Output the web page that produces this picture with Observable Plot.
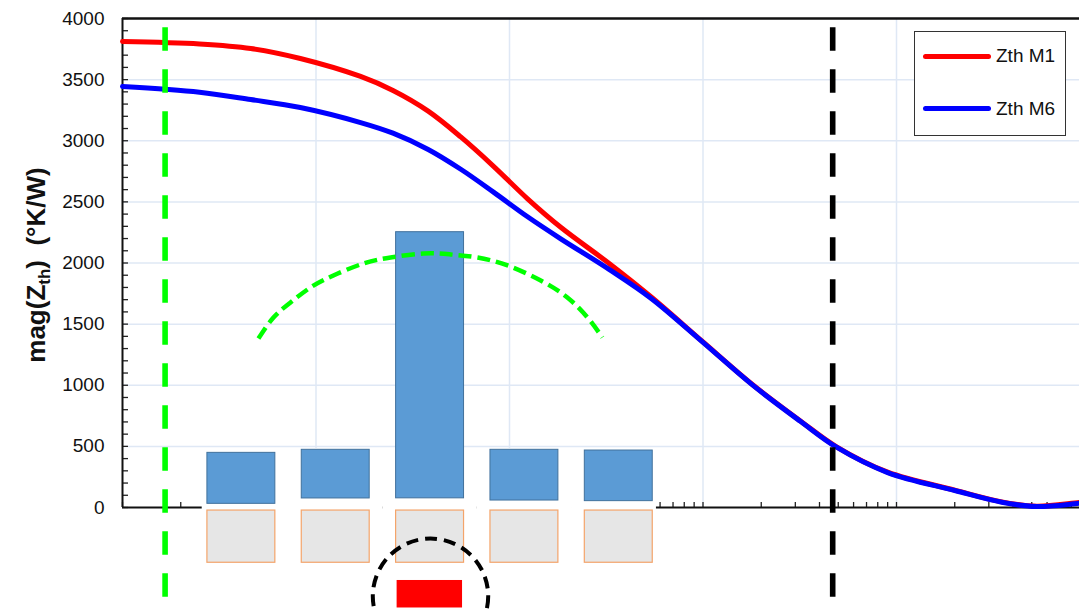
<!DOCTYPE html>
<html>
<head>
<meta charset="utf-8">
<script src="https://cdn.jsdelivr.net/npm/d3@7"></script>
<script src="https://cdn.jsdelivr.net/npm/@observablehq/plot@0.6"></script>
<style>
html, body { margin: 0; padding: 0; background: #fff; overflow: hidden; }
#wrap { position: relative; width: 1079px; height: 611px; overflow: hidden; font-family: "Liberation Sans", Arial, sans-serif; }
#wrap svg { position: absolute; left: 0; top: 0; }
#ytitle { position: absolute; left: 36px; top: 265px; transform: translate(-50%, -50%) rotate(-90deg); font-weight: bold; font-size: 26px; white-space: nowrap; color: #111; line-height: 30px; }
#ytitle sub { font-size: 17px; vertical-align: -5px; line-height: 0; }
#legend { position: absolute; left: 914px; top: 31px; width: 150px; height: 103px; border: 1.5px solid #333; background: #fff; z-index: 5; }
.item { position: absolute; left: 8px; height: 20px; display: flex; align-items: center; }
.sw { width: 68px; height: 5px; border-radius: 3px; margin-right: 5px; }
.lab { font-size: 19px; color: #111; }
</style>
</head>
<body>
<div id="wrap"></div>
<script>
// ---- data ----
const seriesNames = ["Zth M1", "Zth M6"];
const seriesColors = ["#ff0000", "#0000ff"];
const freq  = [1, 2.5, 4.6, 8.3, 17, 25, 38, 56, 83, 124, 184, 330, 540, 1000, 1800, 3200, 4900, 9000, 20000, 35000, 53000, 88000, 100000];
const zthM1 = [3812, 3792, 3755, 3673, 3526, 3411, 3242, 3031, 2789, 2525, 2292, 1992, 1722, 1354, 1006, 706, 496, 289, 142, 46, 11, 42, 48];
const zthM6 = [3444, 3397, 3337, 3272, 3149, 3062, 2929, 2767, 2578, 2378, 2198, 1944, 1710, 1351, 1003, 703, 493, 286, 139, 43, 8, 34, 40];

const yLabels = [0, 500, 1000, 1500, 2000, 2500, 3000, 3500, 4000];
const yGrid = [500, 1000, 1500, 2000, 2500, 3000, 3500];
const xGrid = [10, 100, 1000, 10000];

// dashed marker lines (frequency) and their vertical extent (Zth units)
const markerFreqs = [1.66, 4680];
const markerSpan = [3924, -736];

// green dashed arc (heat spreading) read as points
const arcFreq = [5.04, 6.03, 7.38, 9.37, 12.3, 17.6, 24.3, 36, 49.6, 68.4, 97.7, 145, 199, 253, 302];
const arcZth  = [1382, 1554, 1677, 1800, 1898, 1996, 2045, 2078, 2070, 2045, 1980, 1857, 1718, 1554, 1391];

// dashed ring round the heat source
const ringFreq = [39.06];
const ringZth = [-726];

// schematic: five dies on substrate tiles, heat source under the middle one
const modules = ["S1", "S2", "S3", "S4", "S5"];
const dieTop  = [447, 472, 2252, 472, 466];
const dieBase = [30, 74, 75, 57, 52];
const tileTop  = [-25, -25, -25, -25, -25];
const tileBase = [-452, -452, -452, -452, -452];
const sourceModule = ["S3"];
const sourceTop = [-597];
const sourceBase = [-822];
const backdropTop = 483;
const backdropBase = -1000;

// ---- scales ----
const W = 1079, H = 611;
const font = "Liberation Sans, Arial, sans-serif";
const gridColor = "#dfe8f5";
const X = {type: "log", domain: [1, 1e5], range: [122, 1089.5], axis: null};
const Y = {domain: [0, 4000], range: [507, 18], axis: null};
const xTicks = d3.scaleLog().domain([1, 1e5]).ticks();
const yTicks = d3.ticks(0, 4000, 40);

const main = Plot.plot({
  width: W, height: H, margin: 0,
  x: X, y: Y,
  style: {fontFamily: font, background: "white", overflow: "hidden"},
  marks: [
    Plot.ruleX(xGrid, {x: d => d, y1: 0, y2: 4000, stroke: gridColor, strokeWidth: 1.5}),
    Plot.ruleY(yGrid, {y: d => d, x1: 1, x2: 1e5, stroke: gridColor, strokeWidth: 1.5}),
    Plot.ruleX(xTicks, {x: d => d, y1: 0, y2: 0, insetTop: -5, stroke: "#222", strokeWidth: 1.3}),
    Plot.ruleY(yTicks, {y: d => d, x1: 1, x2: 1, insetRight: -6, stroke: "#222", strokeWidth: 1.3}),
    Plot.ruleX([1], {x: d => d, y1: 0, y2: 4000, stroke: "#111", strokeWidth: 2}),
    Plot.ruleY([0], {y: d => d, x1: 1, x2: 1e5, stroke: "#111", strokeWidth: 2}),
    Plot.ruleY([4000], {y: d => d, x1: 1, x2: 1e5, stroke: "#111", strokeWidth: 2.5}),
    Plot.text(yLabels, {x: 1, y: d => d, text: d => String(d), dx: -18, textAnchor: "end", fontSize: 19, fill: "#111"}),
    Plot.line(freq, {x: freq, y: zthM1, stroke: seriesColors[0], strokeWidth: 5, curve: "catmull-rom"}),
    Plot.line(freq, {x: freq, y: zthM6, stroke: seriesColors[1], strokeWidth: 5, curve: "catmull-rom"}),
    Plot.ruleX([markerFreqs[0]], {x: d => d, y1: markerSpan[0], y2: markerSpan[1], stroke: "#00ff00", strokeWidth: 5.6, strokeDasharray: "23.5,18.5"}),
    Plot.ruleX([markerFreqs[1]], {x: d => d, y1: markerSpan[0], y2: markerSpan[1], stroke: "#000000", strokeWidth: 5.6, strokeDasharray: "23.5,18.5"})
  ]
});

const overlay = Plot.plot({
  width: W, height: H, margin: 0,
  x: {type: "band", domain: modules, range: [193.7, 665.45], paddingInner: 0.28, paddingOuter: 0.14, round: false, axis: null},
  y: Y,
  style: {fontFamily: font, background: "transparent", overflow: "hidden"},
  marks: [
    Plot.barY(modules.slice(0, 1), {x: d => d, y1: backdropBase, y2: backdropTop, fill: "white", insetLeft: -5.2, insetRight: -13.3}),
    Plot.barY(modules.slice(1, 4), {x: d => d, y1: backdropBase, y2: backdropTop, fill: "white", insetLeft: -13.3, insetRight: -13.3}),
    Plot.barY(modules.slice(4), {x: d => d, y1: backdropBase, y2: backdropTop, fill: "white", insetLeft: -13.3, insetRight: -3.7}),
    Plot.barY(modules, {x: modules, y1: dieBase, y2: dieTop, fill: "#5b9bd5", stroke: "#41719c", strokeWidth: 1}),
    Plot.barY(modules, {x: modules, y1: tileBase, y2: tileTop, fill: "#e6e6e6", stroke: "#f4a46a", strokeWidth: 1.2}),
    Plot.barY(sourceModule, {x: sourceModule, y1: sourceBase, y2: sourceTop, fill: "#ff0000", insetLeft: 1, insetRight: 1.5})
  ]
});

const annot = Plot.plot({
  width: W, height: H, margin: 0,
  x: X, y: Y,
  style: {fontFamily: font, background: "transparent", overflow: "hidden"},
  marks: [
    Plot.line(arcFreq, {x: arcFreq, y: arcZth, stroke: "#00ff00", strokeWidth: 4.5, strokeDasharray: "13,6", strokeLinecap: "butt", curve: "natural"}),
    Plot.dot(ringFreq, {x: ringFreq, y: ringZth, r: 57.7, fill: "none", stroke: "#000", strokeWidth: 4, strokeDasharray: "12,7"})
  ]
});

const wrap = document.getElementById("wrap");
wrap.appendChild(main);
wrap.appendChild(overlay);
wrap.appendChild(annot);

const title = document.createElement("div");
title.id = "ytitle";
title.innerHTML = "mag(Z<sub>th</sub>)&nbsp;&nbsp;(°K/W)";
wrap.appendChild(title);

const legend = document.createElement("div");
legend.id = "legend";
const tops = [14.2, 66.5];
seriesNames.forEach((name, i) => {
  const it = document.createElement("div");
  it.className = "item";
  it.style.top = tops[i] + "px";
  const sw = document.createElement("div");
  sw.className = "sw";
  sw.style.background = seriesColors[i];
  const lab = document.createElement("span");
  lab.className = "lab";
  lab.textContent = name;
  it.appendChild(sw); it.appendChild(lab);
  legend.appendChild(it);
});
wrap.appendChild(legend);
</script>
</body>
</html>
